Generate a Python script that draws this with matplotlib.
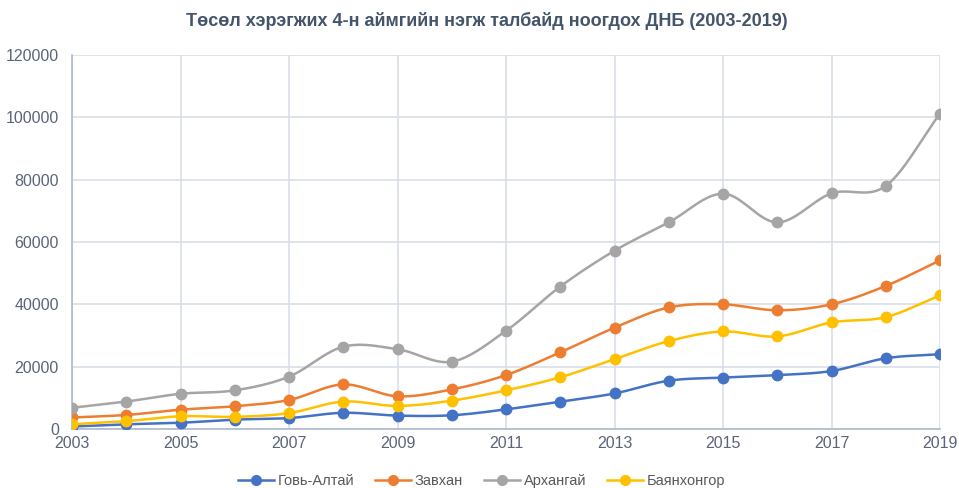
import numpy as np
import matplotlib
matplotlib.use("Agg")
import matplotlib.pyplot as plt

plt.rcParams['font.family'] = ['Liberation Sans', 'DejaVu Sans']

years = list(range(2003, 2020))
govi_altai = [800, 1500, 2000, 3000, 3500, 5200, 4300, 4400, 6300, 8800,
              11400, 15500, 16500, 17300, 18600, 22700, 24000]
zavkhan = [3700, 4500, 6200, 7300, 9300, 14300, 10500, 12700, 17300, 24600,
           32500, 39000, 40000, 38100, 40000, 45900, 54100]
arkhangai = [6800, 8800, 11300, 12400, 16800, 26400, 25600, 21600, 31500, 45700,
             57200, 66300, 75500, 66300, 75600, 78000, 101200]
bayankhongor = [1500, 2500, 4100, 3900, 5100, 8800, 7400, 9100, 12400, 16600,
                22400, 28200, 31300, 29700, 34200, 35900, 42900]

names = ['Говь-Алтай', 'Завхан', 'Архангай', 'Баянхонгор']
colors = ['#4472C4', '#ED7D31', '#A5A5A5', '#FFC000']
series = [govi_altai, zavkhan, arkhangai, bayankhongor]


def smooth(x, y, n=20):
    """catmull-rom curve through the points, like excel's smoothed line"""
    x = np.asarray(x, float)
    y = np.asarray(y, float)
    px = np.concatenate([[2 * x[0] - x[1]], x, [2 * x[-1] - x[-2]]])
    py = np.concatenate([[2 * y[0] - y[1]], y, [2 * y[-1] - y[-2]]])
    xs, ys = [], []
    t = np.linspace(0, 1, n, endpoint=False)
    for i in range(1, len(px) - 2):
        for arr, out in ((px, xs), (py, ys)):
            p0, p1, p2, p3 = arr[i - 1], arr[i], arr[i + 1], arr[i + 2]
            out.extend(0.5 * ((2 * p1) + (-p0 + p2) * t
                              + (2 * p0 - 5 * p1 + 4 * p2 - p3) * t ** 2
                              + (-p0 + 3 * p1 - 3 * p2 + p3) * t ** 3))
    xs.append(x[-1])
    ys.append(y[-1])
    return np.array(xs), np.array(ys)


fig = plt.figure(figsize=(9.59, 4.88), dpi=100)
ax = fig.add_axes([72 / 959, 59 / 488, 868 / 959, 374 / 488])

handles = []
for name, vals, c in zip(names, series, colors):
    sx, sy = smooth(years, vals)
    ax.plot(sx, sy, color=c, lw=1.8, zorder=3)
    ax.plot(years, vals, 'o', color=c, ms=7.5, zorder=4)
    h, = ax.plot([], [], '-o', color=c, lw=1.8, ms=7, label=name)
    handles.append(h)

ax.set_xlim(2003, 2019)
ax.set_ylim(0, 120000)
ax.set_xticks(range(2003, 2020, 2))
ax.set_yticks(range(0, 120001, 20000))
ax.grid(True, color='#D9DEE8', lw=1.2, zorder=0)
ax.set_axisbelow(True)

for s in ['top', 'right']:
    ax.spines[s].set_visible(False)
for s in ['left', 'bottom']:
    ax.spines[s].set_color('#AEB9CC')
    ax.spines[s].set_linewidth(1.2)
ax.tick_params(length=0, colors='#5B6579', labelsize=11.5)
ax.tick_params(axis='y', pad=9.5)
ax.tick_params(axis='x', pad=5)

fig.suptitle('Төсөл хэрэгжих 4-н аймгийн нэгж талбайд ноогдох ДНБ (2003-2019)',
             x=0.508, y=0.975, fontsize=13, fontweight='bold', color='#44546A')

fig.legend(handles=handles, loc='center', bbox_to_anchor=(0.502, 0.014), ncol=4,
           frameon=False, fontsize=10.5, handlelength=2.5, columnspacing=1.4,
           handletextpad=0.25, labelcolor='#595959', borderaxespad=0)

fig.savefig('out.png', dpi=100)
